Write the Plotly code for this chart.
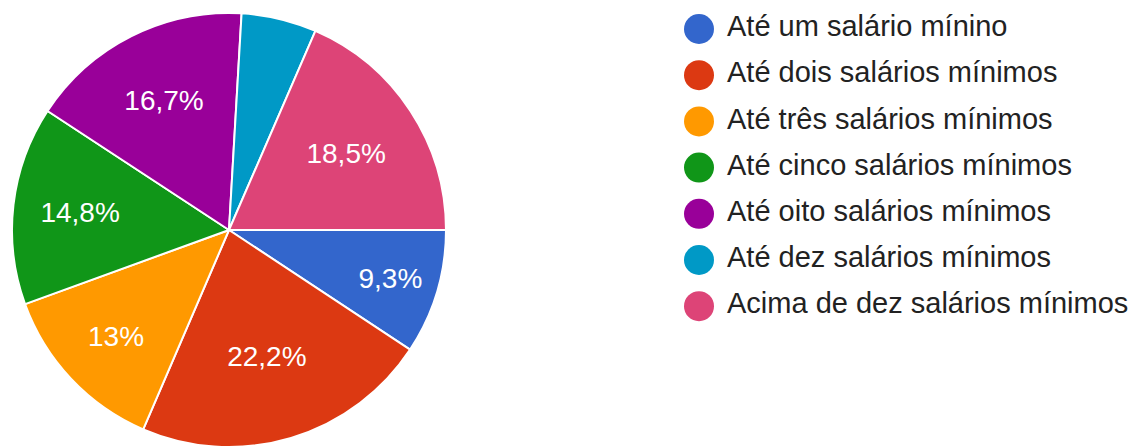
import plotly.graph_objects as go

# Faixas de renda e percentuais de respostas
categorias = [
    "Até um salário mínino",
    "Até dois salários mínimos",
    "Até três salários mínimos",
    "Até cinco salários mínimos",
    "Até oito salários mínimos",
    "Até dez salários mínimos",
    "Acima de dez salários mínimos",
]
percentuais = [9.3, 22.2, 13, 14.8, 16.7, 5.6, 18.5]
cores = ["#3366cc", "#dc3912", "#ff9900", "#109618", "#990099", "#0099c6", "#dd4477"]

# Rótulos com vírgula decimal; fatias pequenas ficam sem rótulo
rotulos = [(f"{v:g}%".replace(".", ",") if v >= 6 else "") for v in percentuais]

W, H = 1135, 447
TOP = 13

fig = go.Figure()

fig.add_trace(go.Pie(
    labels=categorias,
    values=percentuais,
    text=rotulos,
    textinfo="text",
    textposition="inside",
    insidetextorientation="horizontal",
    textfont=dict(family="Liberation Sans, Arial, sans-serif", size=28, color="#ffffff"),
    marker=dict(colors=cores, line=dict(color="#ffffff", width=2)),
    sort=False,
    direction="clockwise",
    rotation=90,
    showlegend=False,
    hoverinfo="label+percent",
    domain=dict(x=[12 / W, 446 / W], y=[0, 1]),
))

# Legenda desenhada como gráfico de dispersão em eixos próprios
idx = list(range(len(categorias)))
fig.add_trace(go.Scatter(
    x=[0] * len(categorias), y=idx,
    mode="markers",
    marker=dict(size=30, color=cores, line=dict(width=0)),
    xaxis="x", yaxis="y", showlegend=False, hoverinfo="skip",
))
fig.add_trace(go.Scatter(
    x=[28] * len(categorias), y=idx,
    mode="text", text=categorias, textposition="middle right",
    textfont=dict(family="Liberation Sans, Arial, sans-serif", size=29, color="#222222"),
    xaxis="x", yaxis="y", showlegend=False, hoverinfo="skip",
))

plot_h = H - TOP
passo = 46.2
y_top = -(29 - TOP) / passo
y_bot = y_top + plot_h / passo
x0 = 0.6
x_left = -(699 - x0 * W)

fig.update_layout(
    width=W, height=H,
    margin=dict(l=0, r=0, t=TOP, b=0),
    paper_bgcolor="#ffffff",
    plot_bgcolor="rgba(0,0,0,0)",
    xaxis=dict(domain=[x0, 1], range=[x_left, x_left + (1 - x0) * W], visible=False, fixedrange=True),
    yaxis=dict(domain=[0, 1], range=[y_bot, y_top], visible=False, fixedrange=True),
)

fig.write_html("out.html")
